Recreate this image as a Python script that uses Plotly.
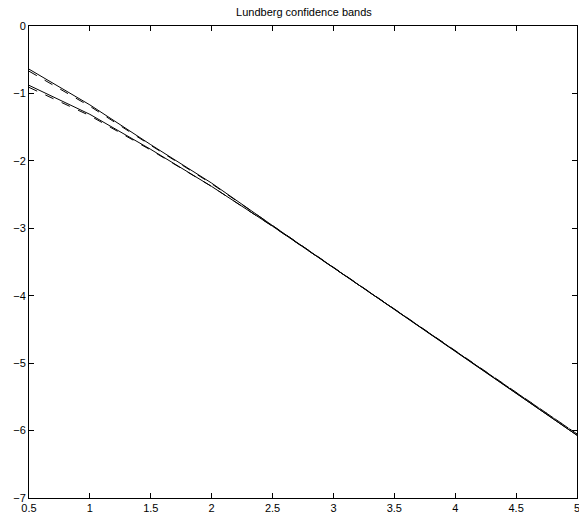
import plotly.graph_objects as go

x_vals = [0.5, 1.0, 1.5, 2.0, 2.5, 3.0, 3.5, 4.0, 4.5, 5.0]
upper_solid = [-0.64, -1.17, -1.76, -2.33, -2.96, -3.58, -4.20, -4.82, -5.44, -6.07]
lower_solid = [-0.88, -1.31, -1.83, -2.38, -2.97, -3.58, -4.20, -4.82, -5.44, -6.07]
upper_dashed = [-0.67, -1.19, -1.77, -2.34, -2.96, -3.58, -4.20, -4.82, -5.44, -6.05]
lower_dashed = [-0.91, -1.33, -1.84, -2.38, -2.97, -3.58, -4.20, -4.82, -5.44, -6.05]

x_ticks = [0.5, 1, 1.5, 2, 2.5, 3, 3.5, 4, 4.5, 5]
x_ticktext = ["0.5", "1", "1.5", "2", "2.5", "3", "3.5", "4", "4.5", "5"]
y_ticks = [0, -1, -2, -3, -4, -5, -6, -7]
y_ticktext = ["0", "\u22121", "\u22122", "\u22123", "\u22124", "\u22125", "\u22126", "\u22127"]
title_text = "Lundberg confidence bands"

fig = go.Figure()
for ys, dash in [(upper_dashed, "dash"), (lower_dashed, "dash"),
                 (upper_solid, "solid"), (lower_solid, "solid")]:
    fig.add_trace(go.Scatter(x=x_vals, y=ys, mode="lines",
                             line=dict(color="black", width=1, dash=dash),
                             showlegend=False, hoverinfo="skip"))

font = dict(family="Liberation Sans, Arial, sans-serif", size=11, color="black")
axis_common = dict(showline=True, linecolor="black", linewidth=1, mirror="ticks",
                   ticks="inside", ticklen=5, tickcolor="black", tickwidth=1,
                   showgrid=False, zeroline=False, tickfont=font, automargin=False,
                   ticklabeloverflow="allow")
fig.update_layout(
    width=579, height=522,
    margin=dict(l=29, r=2, t=26, b=24),
    paper_bgcolor="white", plot_bgcolor="white",
    title=dict(text=title_text, x=0.525, xanchor="center", y=1 - 12 / 522,
               yanchor="middle", font=dict(family="Liberation Sans, Arial, sans-serif",
                                           size=11, color="black")),
    xaxis=dict(range=[0.5, 5], tickvals=x_ticks, ticktext=x_ticktext, **axis_common),
    yaxis=dict(range=[-7, 0], tickvals=y_ticks, ticktext=y_ticktext, **axis_common),
)
fig.write_html("out.html", config={"displayModeBar": False},
               post_script="document.body.style.margin='0';document.body.style.overflow='hidden';")
